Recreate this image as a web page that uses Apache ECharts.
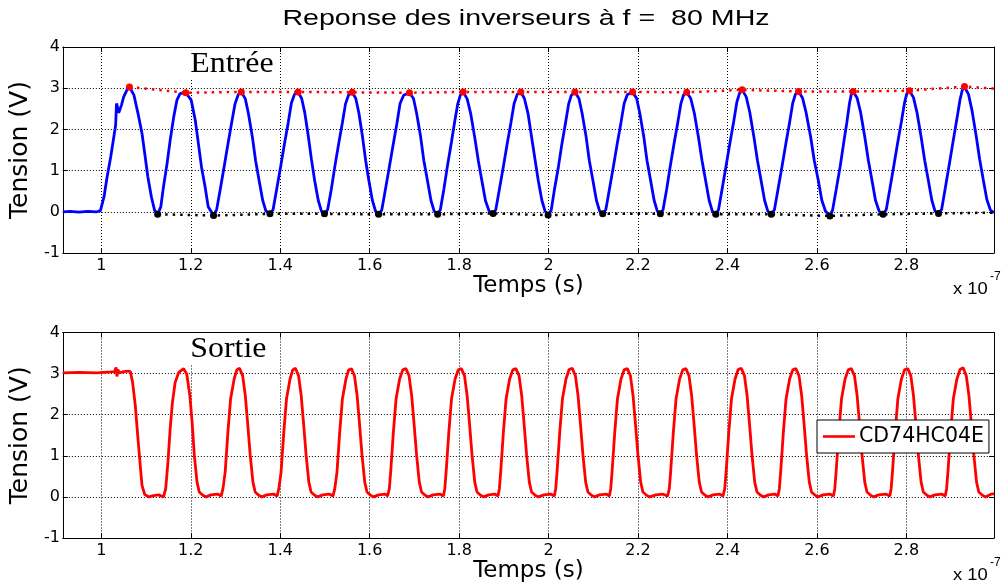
<!DOCTYPE html>
<html>
<head>
<meta charset="utf-8">
<script src="https://cdn.jsdelivr.net/npm/echarts@6/dist/echarts.min.js"></script>
<style>html,body{margin:0;padding:0;background:#fff;}#c{width:1004px;height:584px;}</style>
</head>
<body>
<div id="c"></div>
<script>
// ---- data (time in units of 1e-7 s, voltage in V) ----
const xTicks = [1, 1.2, 1.4, 1.6, 1.8, 2, 2.2, 2.4, 2.6, 2.8];
const yTicks = [-1, 0, 1, 2, 3, 4];

const entreeT = [0.914,0.93,0.95,0.97,0.99,0.998,1.006,1.013,1.021,1.028,1.032,1.034,1.036,1.039,1.045,1.050,1.058,1.063,1.073,1.082,1.091,1.097,1.104,1.112,1.119,1.126,
1.133,1.139,1.147,1.154,1.162,1.169,1.176,1.189,1.201,1.210,1.217,1.224,1.232,1.239,1.251,
1.258,1.266,1.275,1.284,1.292,1.299,1.306,1.313,1.322,1.329,1.338,1.345,1.353,1.361,1.368,1.377,
1.384,1.392,1.401,1.410,1.418,1.425,1.432,1.440,1.448,1.455,1.463,1.470,1.477,1.485,1.492,1.499,
1.506,1.514,1.522,1.531,1.539,1.546,1.553,1.561,1.569,1.576,1.584,1.591,1.598,1.606,1.613,1.620,
1.627,1.635,1.644,1.653,1.661,1.668,1.676,1.689,1.698,1.705,1.714,1.721,1.729,1.737,1.744,1.752,
1.758,1.766,1.774,1.783,1.790,1.797,1.803,1.809,1.818,1.826,1.835,1.843,1.851,1.859,1.867,1.876,
1.882,1.890,1.899,1.908,1.916,1.923,1.930,1.938,1.946,1.954,1.962,1.970,1.977,1.985,1.992,1.999,
2.006,2.013,2.022,2.030,2.038,2.045,2.051,2.059,2.068,2.075,2.084,2.091,2.099,2.107,2.114,2.121,
2.128,2.136,2.145,2.154,2.162,2.169,2.176,2.188,2.197,2.204,2.213,2.220,2.228,2.236,2.243,2.250,
2.256,2.264,2.272,2.281,2.289,2.296,2.302,2.309,2.318,2.326,2.335,2.343,2.351,2.359,2.366,2.374,
2.380,2.388,2.397,2.406,2.414,2.421,2.427,2.433,2.442,2.450,2.459,2.467,2.475,2.483,2.490,2.498,
2.505,2.513,2.522,2.531,2.539,2.546,2.552,2.559,2.568,2.576,2.586,2.594,2.603,2.611,2.619,2.629,
2.635,2.643,2.652,2.660,2.667,2.673,2.677,2.681,2.690,2.698,2.707,2.715,2.723,2.731,2.739,2.748,
2.755,2.763,2.772,2.781,2.789,2.796,2.801,2.807,2.816,2.824,2.833,2.841,2.849,2.857,2.864,2.872,
2.879,2.887,2.896,2.905,2.913,2.920,2.925,2.930,2.939,2.947,2.956,2.964,2.972,2.980,2.988,2.996];
const entreeV = [0.00,0.01,-0.01,0.01,0.00,0.03,0.36,0.85,1.33,1.82,2.10,2.63,2.55,2.40,2.59,2.79,2.97,3.03,2.83,2.39,1.90,1.42,0.85,0.36,0.04,-0.06,
0.12,0.61,1.17,1.74,2.31,2.71,2.87,2.89,2.71,2.23,1.66,1.09,0.61,0.12,-0.09,
0.06,0.55,1.12,1.70,2.20,2.62,2.84,2.91,2.74,2.38,1.80,1.24,0.75,0.27,0.02,-0.05,
0.05,0.54,1.10,1.68,2.17,2.64,2.85,2.91,2.75,2.40,1.82,1.26,0.76,0.28,0.02,-0.05,
0.05,0.53,1.09,1.67,2.16,2.62,2.84,2.90,2.75,2.39,1.82,1.25,0.77,0.28,0.02,-0.06,
0.04,0.53,1.09,1.66,2.15,2.63,2.83,2.89,2.75,2.39,1.82,1.25,0.77,0.28,0.02,-0.06,
0.05,0.55,1.12,1.70,2.18,2.62,2.84,2.91,2.74,2.38,1.80,1.24,0.75,0.27,0.02,-0.04,
0.05,0.54,1.10,1.68,2.17,2.63,2.85,2.91,2.75,2.39,1.82,1.25,0.76,0.28,0.02,-0.08,
0.04,0.53,1.09,1.66,2.16,2.62,2.83,2.91,2.75,2.39,1.82,1.25,0.77,0.28,0.02,-0.05,
0.05,0.54,1.10,1.68,2.17,2.63,2.84,2.91,2.75,2.39,1.82,1.25,0.77,0.28,0.02,-0.05,
0.05,0.54,1.10,1.68,2.17,2.63,2.84,2.90,2.75,2.39,1.82,1.25,0.77,0.28,0.02,-0.06,
0.05,0.55,1.12,1.70,2.19,2.66,2.88,2.96,2.79,2.41,1.83,1.25,0.77,0.28,0.02,-0.06,
0.05,0.54,1.10,1.68,2.17,2.64,2.85,2.92,2.76,2.40,1.82,1.25,0.77,0.28,0.02,-0.10,
0.04,0.53,1.10,1.68,2.17,2.64,2.85,2.92,2.76,2.40,1.82,1.25,0.77,0.28,0.02,-0.06,
0.05,0.55,1.12,1.70,2.19,2.65,2.87,2.94,2.77,2.40,1.82,1.25,0.77,0.28,0.02,-0.04,
0.06,0.57,1.15,1.74,2.25,2.72,2.95,3.04,2.85,2.45,1.85,1.27,0.78,0.30,0.04,-0.02];

const creteT = [1.063,1.189,1.313,1.440,1.561,1.689,1.809,1.938,2.059,2.188,2.309,2.433,2.559,2.681,2.807,2.930];
const creteV = [3.03,2.89,2.91,2.91,2.90,2.89,2.91,2.91,2.91,2.91,2.90,2.96,2.92,2.92,2.94,3.04];
const creteFinT = 2.996, creteFinV = 2.99;

const creuxT = [1.126,1.251,1.377,1.499,1.620,1.752,1.876,1.999,2.121,2.250,2.374,2.498,2.629,2.748,2.872];
const creuxV = [-0.06,-0.09,-0.05,-0.05,-0.06,-0.06,-0.04,-0.08,-0.05,-0.05,-0.06,-0.06,-0.10,-0.06,-0.04];
const creuxFinT = 2.996, creuxFinV = -0.02;

const sortieT = [0.914,0.95,0.99,1.02,1.030,1.033,1.035,1.037,1.040,1.050,1.060,1.065,1.070,1.076,1.082,1.087,1.091,1.097,1.106,1.117,1.128,1.139,
1.144,1.149,1.154,1.159,1.165,1.173,1.184,1.191,1.198,1.203,1.208,1.214,1.219,1.227,1.234,1.245,1.260,1.268,
1.272,1.277,1.283,1.289,1.297,1.303,1.309,1.316,1.322,1.327,1.333,1.339,1.344,1.352,1.359,1.370,1.385,1.393,
1.397,1.402,1.408,1.414,1.422,1.428,1.434,1.441,1.447,1.452,1.458,1.464,1.469,1.477,1.484,1.495,1.510,1.518,
1.522,1.527,1.533,1.539,1.547,1.553,1.559,1.566,1.572,1.577,1.583,1.589,1.594,1.602,1.609,1.620,1.635,1.640,
1.644,1.647,1.653,1.659,1.667,1.674,1.681,1.688,1.694,1.699,1.705,1.711,1.716,1.724,1.731,1.742,1.757,1.765,
1.768,1.771,1.777,1.783,1.791,1.798,1.805,1.812,1.818,1.823,1.829,1.835,1.840,1.848,1.855,1.866,1.880,1.887,
1.890,1.893,1.899,1.905,1.913,1.920,1.927,1.934,1.940,1.945,1.951,1.957,1.962,1.970,1.977,1.990,2.005,2.013,
2.016,2.019,2.025,2.031,2.039,2.046,2.053,2.060,2.066,2.071,2.077,2.083,2.088,2.096,2.103,2.114,2.129,2.136,
2.139,2.142,2.148,2.154,2.162,2.169,2.176,2.183,2.189,2.194,2.200,2.206,2.211,2.219,2.226,2.240,2.255,2.266,
2.270,2.273,2.279,2.285,2.293,2.300,2.307,2.314,2.320,2.325,2.331,2.337,2.342,2.350,2.357,2.368,2.382,2.390,
2.394,2.397,2.403,2.409,2.417,2.424,2.431,2.438,2.444,2.449,2.455,2.461,2.466,2.474,2.481,2.492,2.506,2.513,
2.516,2.519,2.525,2.531,2.539,2.546,2.553,2.560,2.566,2.571,2.577,2.583,2.588,2.596,2.603,2.614,2.629,2.637,
2.640,2.643,2.649,2.655,2.663,2.670,2.677,2.684,2.690,2.695,2.701,2.707,2.712,2.720,2.727,2.738,2.754,2.763,
2.766,2.769,2.775,2.781,2.789,2.796,2.803,2.810,2.816,2.821,2.827,2.833,2.838,2.846,2.853,2.864,2.879,2.887,
2.890,2.893,2.899,2.905,2.913,2.920,2.927,2.934,2.940,2.945,2.951,2.957,2.962,2.970,2.977,2.988,2.996];
const sortieV = [3.02,3.03,3.02,3.04,3.05,3.15,2.93,3.10,3.02,3.05,3.06,3.05,2.78,2.22,1.41,0.77,0.28,0.06,0.00,0.03,0.05,0.00,
0.20,0.85,1.66,2.30,2.78,3.03,3.12,2.99,2.46,1.82,1.01,0.36,0.12,0.04,0.00,0.05,0.07,0.02,
0.20,0.61,1.57,2.38,2.87,3.09,3.13,2.95,2.46,1.82,1.01,0.36,0.12,0.04,0.00,0.05,0.07,0.02,
0.20,0.61,1.57,2.38,2.87,3.09,3.13,2.95,2.46,1.82,1.01,0.36,0.12,0.04,0.00,0.05,0.07,0.02,
0.20,0.61,1.57,2.38,2.87,3.09,3.12,2.95,2.46,1.82,1.01,0.36,0.12,0.04,0.00,0.05,0.07,0.02,
0.20,0.61,1.57,2.38,2.87,3.09,3.12,2.95,2.46,1.82,1.01,0.36,0.12,0.04,0.00,0.05,0.07,0.02,
0.20,0.61,1.57,2.38,2.87,3.09,3.12,2.95,2.46,1.82,1.01,0.36,0.12,0.04,0.00,0.05,0.07,0.02,
0.20,0.61,1.57,2.38,2.87,3.09,3.12,2.95,2.46,1.82,1.01,0.36,0.12,0.04,0.00,0.05,0.07,0.02,
0.20,0.61,1.57,2.38,2.87,3.10,3.13,2.95,2.46,1.82,1.01,0.36,0.12,0.04,0.00,0.05,0.07,0.02,
0.20,0.61,1.57,2.38,2.87,3.09,3.12,2.95,2.46,1.82,1.01,0.36,0.12,0.04,0.00,0.05,0.07,0.02,
0.20,0.61,1.57,2.38,2.87,3.09,3.12,2.95,2.46,1.82,1.01,0.36,0.12,0.04,0.00,0.05,0.07,0.02,
0.20,0.61,1.57,2.38,2.87,3.10,3.13,2.95,2.46,1.82,1.01,0.36,0.12,0.04,0.00,0.05,0.07,0.02,
0.20,0.61,1.57,2.38,2.87,3.09,3.12,2.95,2.46,1.82,1.01,0.36,0.12,0.04,0.00,0.05,0.07,0.02,
0.20,0.61,1.57,2.38,2.87,3.09,3.12,2.95,2.46,1.82,1.01,0.36,0.12,0.04,0.00,0.05,0.07,0.02,
0.20,0.61,1.57,2.38,2.87,3.09,3.12,2.95,2.46,1.82,1.01,0.36,0.12,0.04,0.00,0.05,0.07,0.02,
0.20,0.61,1.57,2.38,2.87,3.10,3.14,2.95,2.46,1.82,1.01,0.36,0.12,0.04,0.00,0.06,0.08];

const titre = 'Reponse des inverseurs à f =  80 MHz';
const nomX = 'Temps (s)';
const nomY = 'Tension (V)';
const legende = 'CD74HC04E';

// ---- build ----
const zip = (a, b) => a.map((v, i) => [v, b[i]]);
const FONT = 'Liberation Sans, Arial, sans-serif';
const WFONT = '"DejaVu Sans", sans-serif';
const XMIN = 0.914, XMAX = 2.996;
const gridDot = { show: true, lineStyle: { color: '#000', type: [1, 2], width: 1 } };

function xAx(gi, main) {
  return {
    type: 'value', gridIndex: gi, min: XMIN, max: XMAX, position: main ? 'bottom' : 'top',
    axisLine: { show: true, onZero: false, lineStyle: { color: '#000', width: 1 } },
    axisTick: { show: true, inside: true, length: 5, customValues: xTicks, lineStyle: { color: '#000' } },
    axisLabel: { show: main, customValues: xTicks, margin: 5, color: '#000', fontFamily: WFONT, fontSize: 16,
      formatter: v => String(+v.toFixed(1)) },
    splitLine: main ? gridDot : { show: false },
    name: main ? nomX : '', nameLocation: 'middle', nameGap: 22,
    nameTextStyle: { color: '#000', fontFamily: WFONT, fontSize: 23 }
  };
}
function yAx(gi, main) {
  return {
    type: 'value', gridIndex: gi, min: yTicks[0], max: yTicks[yTicks.length - 1], interval: 1, position: main ? 'left' : 'right',
    axisLine: { show: true, onZero: false, lineStyle: { color: '#000', width: 1 } },
    axisTick: { show: true, inside: true, length: 5, lineStyle: { color: '#000' } },
    axisLabel: { show: main, margin: 3, color: '#000', fontFamily: WFONT, fontSize: 16 },
    splitLine: main ? gridDot : { show: false },
    name: main ? nomY : '', nameLocation: 'middle', nameGap: 21, nameRotate: 90,
    nameTextStyle: { color: '#000', fontFamily: WFONT, fontSize: 25 }
  };
}

const envelope = (ts, vs, tEnd, vEnd) => zip(ts, vs).concat([{ value: [tEnd, vEnd], symbol: 'none' }]);

const chart = echarts.init(document.getElementById('c'), null, { renderer: 'canvas' });
chart.setOption({
  animation: false,
  backgroundColor: '#fff',
  grid: [
    { left: 57, top: 47, width: 937, height: 206 },
    { left: 57, top: 332.5, width: 937, height: 205.5 }
  ],
  xAxis: [xAx(0, true), xAx(0, false), xAx(1, true), xAx(1, false)],
  yAxis: [yAx(0, true), yAx(0, false), yAx(1, true), yAx(1, false)],
  legend: {
    data: [{ name: legende, icon: 'rect' }], left: 817, top: 420, orient: 'vertical',
    backgroundColor: '#fff', borderColor: '#000', borderWidth: 1, borderRadius: 0,
    padding: [6, 5, 6, 6], itemWidth: 32, itemHeight: 2.6, itemGap: 4,
    textStyle: { color: '#000', fontFamily: WFONT, fontSize: 20.5, padding: [0, 0, 0, -1] }
  },
  series: [
    { name: 'Entrée', type: 'line', xAxisIndex: 0, yAxisIndex: 0, data: zip(entreeT, entreeV),
      showSymbol: false, symbol: 'none', lineStyle: { color: '#0000ff', width: 2.8 }, z: 3 },
    { name: 'crêtes', type: 'line', xAxisIndex: 0, yAxisIndex: 0, data: envelope(creteT, creteV, creteFinT, creteFinV),
      symbol: 'circle', symbolSize: 7, itemStyle: { color: '#ff0000' },
      lineStyle: { color: '#ff0000', width: 2.5, type: [2.5, 5] }, z: 4 },
    { name: 'creux', type: 'line', xAxisIndex: 0, yAxisIndex: 0, data: envelope(creuxT, creuxV, creuxFinT, creuxFinV),
      symbol: 'circle', symbolSize: 7, itemStyle: { color: '#000' },
      lineStyle: { color: '#000', width: 2.5, type: [2.5, 5] }, z: 4 },
    { name: legende, type: 'line', xAxisIndex: 2, yAxisIndex: 2, data: zip(sortieT, sortieV),
      showSymbol: false, symbol: 'none', itemStyle: { color: '#ff0000' },
      lineStyle: { color: '#ff0000', width: 2.8 }, z: 3 }
  ],
  graphic: [
    { type: 'text', x: 526, y: 19, scaleX: 1.3, z: 10, style: { text: titre, fill: '#000', font: '22px ' + FONT, align: 'center', verticalAlign: 'middle' } },
    { type: 'text', x: 187, y: 48, scaleX: 1.1, z: 10, style: { text: 'Entrée', fill: '#000', font: '29px "Liberation Serif", "Times New Roman", serif',
      backgroundColor: '#fff', padding: [2, 2, 1, 3], align: 'left', verticalAlign: 'top' } },
    { type: 'text', x: 187, y: 333, scaleX: 1.1, z: 10, style: { text: 'Sortie', fill: '#000', font: '29px "Liberation Serif", "Times New Roman", serif',
      backgroundColor: '#fff', padding: [2, 2, 1, 3], align: 'left', verticalAlign: 'top' } },
    { type: 'text', x: 953, y: 298, scaleX: 1.15, z: 10, style: { text: 'x 10', fill: '#000', font: '16px ' + FONT, align: 'left', verticalAlign: 'bottom' } },
    { type: 'text', x: 990, y: 283, z: 10, style: { text: '-7', fill: '#000', font: '12px ' + FONT, align: 'left', verticalAlign: 'bottom' } },
    { type: 'text', x: 953, y: 584, scaleX: 1.15, z: 10, style: { text: 'x 10', fill: '#000', font: '16px ' + FONT, align: 'left', verticalAlign: 'bottom' } },
    { type: 'text', x: 990, y: 569, z: 10, style: { text: '-7', fill: '#000', font: '12px ' + FONT, align: 'left', verticalAlign: 'bottom' } }
  ]
});
</script>
</body>
</html>
